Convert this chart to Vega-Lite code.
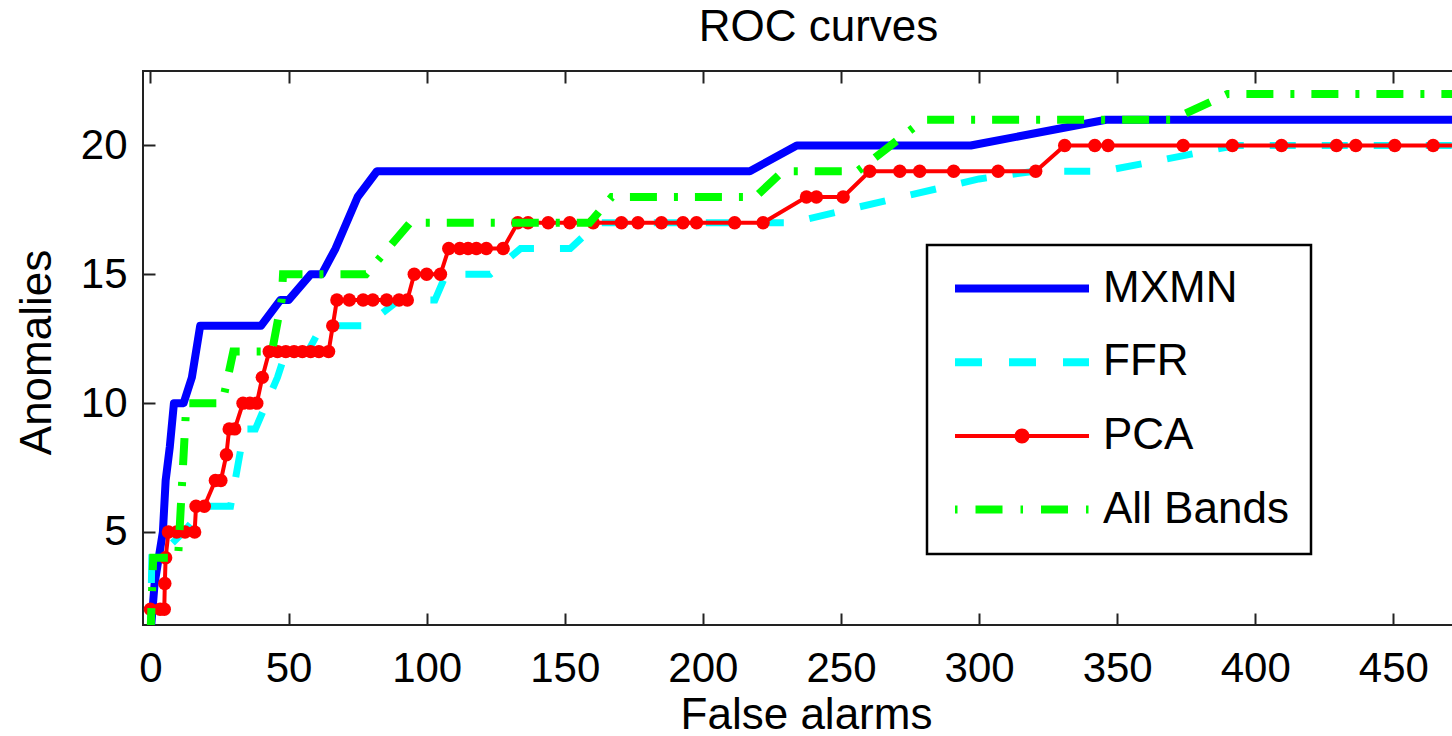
{
  "$schema": "https://vega.github.io/schema/vega-lite/v6.json",
  "width": 1315,
  "height": 554,
  "autosize": {"type": "none"},
  "padding": {"left": 143, "top": 71, "right": 0, "bottom": 111},
  "background": "white",
  "config": {
    "font": "Liberation Sans",
    "view": {"stroke": "#222", "strokeWidth": 2}
  },
  "title": {"text": "ROC curves", "fontSize": 44, "font": "Liberation Sans", "fontWeight": "normal", "color": "#000", "anchor": "middle", "frame": "group", "dx": 18, "dy": 45, "offset": 30, "baseline": "alphabetic"},
  "data": {"values": [
    {"method": "MXMN", "fa": 0, "an": 1}, {"method": "MXMN", "fa": 1.5, "an": 3}, {"method": "MXMN", "fa": 3, "an": 4}, {"method": "MXMN", "fa": 4.5, "an": 5}, {"method": "MXMN", "fa": 5.5, "an": 7}, {"method": "MXMN", "fa": 7, "an": 8.3}, {"method": "MXMN", "fa": 8.5, "an": 10}, {"method": "MXMN", "fa": 12, "an": 10}, {"method": "MXMN", "fa": 15, "an": 11}, {"method": "MXMN", "fa": 18, "an": 13}, {"method": "MXMN", "fa": 40, "an": 13}, {"method": "MXMN", "fa": 47, "an": 14}, {"method": "MXMN", "fa": 50, "an": 14}, {"method": "MXMN", "fa": 58, "an": 15}, {"method": "MXMN", "fa": 62, "an": 15}, {"method": "MXMN", "fa": 67, "an": 16}, {"method": "MXMN", "fa": 75, "an": 18}, {"method": "MXMN", "fa": 82, "an": 19}, {"method": "MXMN", "fa": 217, "an": 19}, {"method": "MXMN", "fa": 234, "an": 20}, {"method": "MXMN", "fa": 297, "an": 20}, {"method": "MXMN", "fa": 346, "an": 21}, {"method": "MXMN", "fa": 480, "an": 21},
    {"method": "FFR", "fa": 0, "an": 1}, {"method": "FFR", "fa": 0.5, "an": 4}, {"method": "FFR", "fa": 2.5, "an": 4}, {"method": "FFR", "fa": 12, "an": 5}, {"method": "FFR", "fa": 20, "an": 6}, {"method": "FFR", "fa": 29, "an": 6}, {"method": "FFR", "fa": 34, "an": 9}, {"method": "FFR", "fa": 38, "an": 9}, {"method": "FFR", "fa": 46, "an": 11}, {"method": "FFR", "fa": 49, "an": 12}, {"method": "FFR", "fa": 57, "an": 12}, {"method": "FFR", "fa": 62, "an": 13}, {"method": "FFR", "fa": 78, "an": 13}, {"method": "FFR", "fa": 90, "an": 14}, {"method": "FFR", "fa": 103, "an": 14}, {"method": "FFR", "fa": 107, "an": 15}, {"method": "FFR", "fa": 123, "an": 15}, {"method": "FFR", "fa": 134, "an": 16}, {"method": "FFR", "fa": 152, "an": 16}, {"method": "FFR", "fa": 162, "an": 17}, {"method": "FFR", "fa": 232, "an": 17}, {"method": "FFR", "fa": 300, "an": 18.7}, {"method": "FFR", "fa": 320, "an": 19}, {"method": "FFR", "fa": 345, "an": 19}, {"method": "FFR", "fa": 393, "an": 20}, {"method": "FFR", "fa": 480, "an": 20},
    {"method": "PCA", "fa": 0, "an": 1}, {"method": "PCA", "fa": 0, "an": 2}, {"method": "PCA", "fa": 3.5, "an": 2}, {"method": "PCA", "fa": 5, "an": 2}, {"method": "PCA", "fa": 5.2, "an": 3}, {"method": "PCA", "fa": 5.5, "an": 4}, {"method": "PCA", "fa": 6.5, "an": 5}, {"method": "PCA", "fa": 9.5, "an": 5}, {"method": "PCA", "fa": 12.5, "an": 5}, {"method": "PCA", "fa": 16, "an": 5}, {"method": "PCA", "fa": 16.5, "an": 6}, {"method": "PCA", "fa": 19.5, "an": 6}, {"method": "PCA", "fa": 23.5, "an": 7}, {"method": "PCA", "fa": 25.5, "an": 7}, {"method": "PCA", "fa": 27.5, "an": 8}, {"method": "PCA", "fa": 28.5, "an": 9}, {"method": "PCA", "fa": 30.5, "an": 9}, {"method": "PCA", "fa": 33.5, "an": 10}, {"method": "PCA", "fa": 36, "an": 10}, {"method": "PCA", "fa": 38.5, "an": 10}, {"method": "PCA", "fa": 40.5, "an": 11}, {"method": "PCA", "fa": 43, "an": 12}, {"method": "PCA", "fa": 46, "an": 12}, {"method": "PCA", "fa": 49, "an": 12}, {"method": "PCA", "fa": 52, "an": 12}, {"method": "PCA", "fa": 55, "an": 12}, {"method": "PCA", "fa": 58, "an": 12}, {"method": "PCA", "fa": 61, "an": 12}, {"method": "PCA", "fa": 64.5, "an": 12}, {"method": "PCA", "fa": 66, "an": 13}, {"method": "PCA", "fa": 67.5, "an": 14}, {"method": "PCA", "fa": 72, "an": 14}, {"method": "PCA", "fa": 77, "an": 14}, {"method": "PCA", "fa": 80.5, "an": 14}, {"method": "PCA", "fa": 85.5, "an": 14}, {"method": "PCA", "fa": 90, "an": 14}, {"method": "PCA", "fa": 93, "an": 14}, {"method": "PCA", "fa": 95.5, "an": 15}, {"method": "PCA", "fa": 100, "an": 15}, {"method": "PCA", "fa": 105, "an": 15}, {"method": "PCA", "fa": 108, "an": 16}, {"method": "PCA", "fa": 112, "an": 16}, {"method": "PCA", "fa": 115, "an": 16}, {"method": "PCA", "fa": 118, "an": 16}, {"method": "PCA", "fa": 121.6, "an": 16}, {"method": "PCA", "fa": 127.7, "an": 16}, {"method": "PCA", "fa": 133, "an": 17}, {"method": "PCA", "fa": 136.7, "an": 17}, {"method": "PCA", "fa": 144, "an": 17}, {"method": "PCA", "fa": 151.8, "an": 17}, {"method": "PCA", "fa": 160.3, "an": 17}, {"method": "PCA", "fa": 170.5, "an": 17}, {"method": "PCA", "fa": 176.5, "an": 17}, {"method": "PCA", "fa": 185, "an": 17}, {"method": "PCA", "fa": 192.8, "an": 17}, {"method": "PCA", "fa": 197.7, "an": 17}, {"method": "PCA", "fa": 211.5, "an": 17}, {"method": "PCA", "fa": 221.8, "an": 17}, {"method": "PCA", "fa": 237.5, "an": 18}, {"method": "PCA", "fa": 241.1, "an": 18}, {"method": "PCA", "fa": 250.8, "an": 18}, {"method": "PCA", "fa": 260.4, "an": 19}, {"method": "PCA", "fa": 271.3, "an": 19}, {"method": "PCA", "fa": 278.5, "an": 19}, {"method": "PCA", "fa": 290.8, "an": 19}, {"method": "PCA", "fa": 306.9, "an": 19}, {"method": "PCA", "fa": 320.5, "an": 19}, {"method": "PCA", "fa": 331, "an": 20}, {"method": "PCA", "fa": 341.9, "an": 20}, {"method": "PCA", "fa": 346.7, "an": 20}, {"method": "PCA", "fa": 373.9, "an": 20}, {"method": "PCA", "fa": 391.7, "an": 20}, {"method": "PCA", "fa": 409.5, "an": 20}, {"method": "PCA", "fa": 429.4, "an": 20}, {"method": "PCA", "fa": 436.4, "an": 20}, {"method": "PCA", "fa": 450.5, "an": 20}, {"method": "PCA", "fa": 464.4, "an": 20}, {"method": "PCA", "fa": 480, "an": 20},
    {"method": "All Bands", "fa": 0, "an": 1}, {"method": "All Bands", "fa": 1, "an": 4}, {"method": "All Bands", "fa": 10, "an": 4}, {"method": "All Bands", "fa": 10.5, "an": 5}, {"method": "All Bands", "fa": 12, "an": 8}, {"method": "All Bands", "fa": 13, "an": 10}, {"method": "All Bands", "fa": 26, "an": 10}, {"method": "All Bands", "fa": 30, "an": 12}, {"method": "All Bands", "fa": 44, "an": 12}, {"method": "All Bands", "fa": 47.5, "an": 14}, {"method": "All Bands", "fa": 48, "an": 15}, {"method": "All Bands", "fa": 78, "an": 15}, {"method": "All Bands", "fa": 94, "an": 17}, {"method": "All Bands", "fa": 159, "an": 17}, {"method": "All Bands", "fa": 167, "an": 18}, {"method": "All Bands", "fa": 219, "an": 18}, {"method": "All Bands", "fa": 229, "an": 19}, {"method": "All Bands", "fa": 256, "an": 19}, {"method": "All Bands", "fa": 280, "an": 21}, {"method": "All Bands", "fa": 370, "an": 21}, {"method": "All Bands", "fa": 390, "an": 22}, {"method": "All Bands", "fa": 480, "an": 22}
  ]},
  "resolve": {"axis": {"x": "independent"}},
  "encoding": {
    "y": {"field": "an", "type": "quantitative",
      "scale": {"domain": [1.39, 22.89], "nice": false, "zero": false},
      "axis": {"values": [5, 10, 15, 20], "grid": false, "domain": false,
        "tickSize": -12, "tickWidth": 2, "tickColor": "#222",
        "labelFontSize": 42, "labelFont": "Liberation Sans", "labelColor": "#000", "labelPadding": 28, "labelFlush": false, "labelOverlap": false, "labelBound": false,
        "title": "Anomalies", "titleFontSize": 44, "titleFont": "Liberation Sans", "titleFontWeight": "normal", "titleColor": "#000",
        "titleX": -93, "titleY": 281, "titleAngle": -90, "titleBaseline": "alphabetic", "titleAlign": "center"}}
  },
  "layer": [
    {
      "transform": [{"filter": "datum.method === 'MXMN'"}],
      "mark": {"type": "line", "strokeWidth": 8, "clip": true, "strokeJoin": "round"},
      "encoding": {
        "x": {"field": "fa", "type": "quantitative",
          "scale": {"domain": [-2.7, 473.4], "nice": false, "zero": false},
          "axis": {"orient": "bottom", "values": [0, 50, 100, 150, 200, 250, 300, 350, 400, 450], "grid": false, "domain": false,
            "tickSize": -12, "tickWidth": 2, "tickColor": "#222",
            "labelFontSize": 42, "labelFont": "Liberation Sans", "labelColor": "#000", "labelPadding": 35, "labelFlush": false, "labelOverlap": false, "labelBound": false,
            "title": "False alarms", "titleFontSize": 44, "titleFont": "Liberation Sans", "titleFontWeight": "normal", "titleColor": "#000",
            "titleX": 663, "titleY": 103, "titleBaseline": "alphabetic", "titleAlign": "center"}},
        "color": {"field": "method", "type": "nominal",
          "scale": {"domain": ["MXMN", "FFR", "PCA", "All Bands"], "range": ["#0000ff", "#00ffff", "#ff0000", "#00ff00"]},
          "legend": {"orient": "none", "legendX": 784, "legendY": 174, "title": null,
            "padding": 21.5, "rowPadding": 29.7, "symbolSize": 718, "symbolStrokeWidth": 8, "symbolOffset": 51.5, "labelOffset": 59,
            "labelFontSize": 44, "labelFont": "Liberation Sans", "labelColor": "#000", "labelLimit": 0, "labelBaseline": "middle",
            "strokeColor": "#000", "fillColor": "#fff",
            "encode": {
              "legend": {"update": {"strokeWidth": {"value": 2.5}}},
              "symbols": {"update": {
                "shape": {"signal": "datum.value === 'PCA' ? 'M-5,-0.15L5,-0.15L5,0.15L-5,0.15ZM0.56,0A0.56,0.56 0 1,1 -0.56,0A0.56,0.56 0 1,1 0.56,0Z' : 'M-5,0L5,0'"},
                "strokeOpacity": {"signal": "datum.value === 'PCA' ? 0 : 1"},
                "fill": {"signal": "datum.value === 'PCA' ? '#ff0000' : 'transparent'"},
                "fillOpacity": {"value": 1},
                "strokeDash": {"signal": "datum.value === 'FFR' ? [27,27] : datum.value === 'All Bands' ? [2.5,18,27,18] : [1,0]"},
                "opacity": {"value": 1}
              }}
            }}}
      }
    },
    {
      "transform": [{"filter": "datum.method === 'FFR'"}],
      "mark": {"type": "line", "strokeWidth": 7, "clip": true, "color": "#00ffff", "strokeDash": [26, 26]},
      "encoding": {
        "x": {"field": "fa", "type": "quantitative",
          "axis": {"orient": "top", "values": [0, 50, 100, 150, 200, 250, 300, 350, 400, 450], "grid": false, "domain": false, "labels": false, "title": null,
            "tickSize": -12, "tickWidth": 2, "tickColor": "#222"}}
      }
    },
    {
      "transform": [{"filter": "datum.method === 'PCA'"}],
      "mark": {"type": "line", "strokeWidth": 4, "clip": true, "color": "#ff0000"},
      "encoding": {
        "x": {"field": "fa", "type": "quantitative", "axis": null}
      }
    },
    {
      "transform": [{"filter": "datum.method === 'PCA'"}],
      "mark": {"type": "point", "filled": true, "size": 180, "clip": true, "color": "#ff0000", "opacity": 1, "strokeWidth": 0},
      "encoding": {
        "x": {"field": "fa", "type": "quantitative", "axis": null}
      }
    },
    {
      "transform": [{"filter": "datum.method === 'All Bands'"}],
      "mark": {"type": "line", "strokeWidth": 8, "clip": true, "color": "#00ff00", "strokeDash": [27, 17, 4, 17]},
      "encoding": {
        "x": {"field": "fa", "type": "quantitative", "axis": null}
      }
    }
  ]
}
